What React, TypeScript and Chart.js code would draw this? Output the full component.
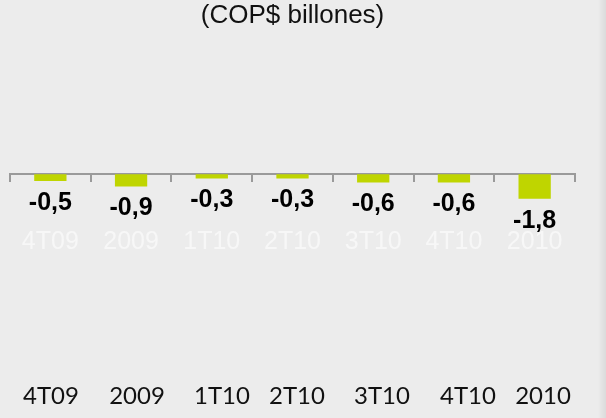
import React, { useEffect, useRef } from "react";
import { Chart, registerables } from "chart.js";

Chart.register(...registerables);

const categories: string[] = ["4T09", "2009", "1T10", "2T10", "3T10", "4T10", "2010"];
const values: number[] = [-0.5, -0.9, -0.3, -0.3, -0.6, -0.6, -1.8];
const titleText = "(COP$ billones)";

const FONT = "'Liberation Sans', Arial, sans-serif";
const BAR_COLOR = "#bfd500";

// layout of the table row at the bottom (column centres in px)
const tableCentres = [51, 137, 222, 297, 382, 468, 543];

const fmt = (v: number) => v.toFixed(1).replace(".", ",");

const dataLabelPlugin = {
  id: "dataLabels",
  afterDatasetsDraw(chart: any) {
    const ctx = chart.ctx;
    const meta = chart.getDatasetMeta(0);
    ctx.save();
    ctx.font = `bold 25px ${FONT}`;
    ctx.fillStyle = "#000";
    ctx.textAlign = "center";
    ctx.textBaseline = "middle";
    meta.data.forEach((el: any, i: number) => {
      const v = values[i];
      ctx.fillText(fmt(v), el.x, el.y + 22);
    });
    ctx.restore();
  },
};

export default function App() {
  const ref = useRef<HTMLCanvasElement | null>(null);

  useEffect(() => {
    if (!ref.current) return;
    const chart = new Chart(ref.current, {
      type: "bar",
      data: {
        labels: categories,
        datasets: [
          {
            data: values,
            backgroundColor: BAR_COLOR,
            borderWidth: 0,
            barPercentage: 0.4,
            categoryPercentage: 1,
          },
        ],
      },
      options: {
        responsive: false,
        animation: false,
        layout: { padding: { left: 10, right: 31, top: 0, bottom: 60 } },
        plugins: {
          legend: { display: false },
          tooltip: { enabled: false },
          title: {
            display: true,
            text: titleText,
            color: "#111",
            font: { family: FONT, size: 26, weight: "normal" },
            padding: { top: 0, bottom: 22 },
          },
        },
        scales: {
          x: {
            position: { y: 0 } as any,
            offset: true,
            z: 1,
            grid: {
              display: true,
              drawOnChartArea: false,
              drawTicks: true,
              tickLength: 7,
              color: "#9a9a9a",
              lineWidth: 2,
              offset: true,
            },
            border: { display: true, color: "#9a9a9a", width: 2 },
            ticks: {
              color: "#f7f7f7",
              font: { family: FONT, size: 25 },
              padding: 46,
              maxRotation: 0,
              autoSkip: false,
            },
            afterFit: (s: any) => {
              s.height = 0;
              s.paddingLeft = 0;
              s.paddingRight = 0;
            },
          },
          y: {
            display: false,
            min: -13.5,
            max: 8.9,
          },
        },
      },
      plugins: [dataLabelPlugin],
    });
    return () => chart.destroy();
  }, []);

  return (
    <div
      style={{
        position: "absolute",
        left: 0,
        top: 0,
        width: 606,
        height: 418,
        background: "#ececec",
        overflow: "hidden",
      }}
    >
      <style>{"body{margin:0}"}</style>
      <canvas ref={ref} width={606} height={418} style={{ display: "block" }} />
      {categories.map((c, i) => (
        <div
          key={c}
          style={{
            position: "absolute",
            left: tableCentres[i] - 50,
            top: 380,
            width: 100,
            height: 30,
            lineHeight: "30px",
            textAlign: "center",
            fontFamily: "Lato, 'Open Sans', sans-serif",
            fontSize: 24,
            color: "#111",
          }}
        >
          {c}
        </div>
      ))}
      <div
        style={{
          position: "absolute",
          right: 0,
          top: 0,
          width: 8,
          height: 418,
          background: "linear-gradient(to right, rgba(0,0,0,0), rgba(0,0,0,0.07))",
        }}
      />
    </div>
  );
}
